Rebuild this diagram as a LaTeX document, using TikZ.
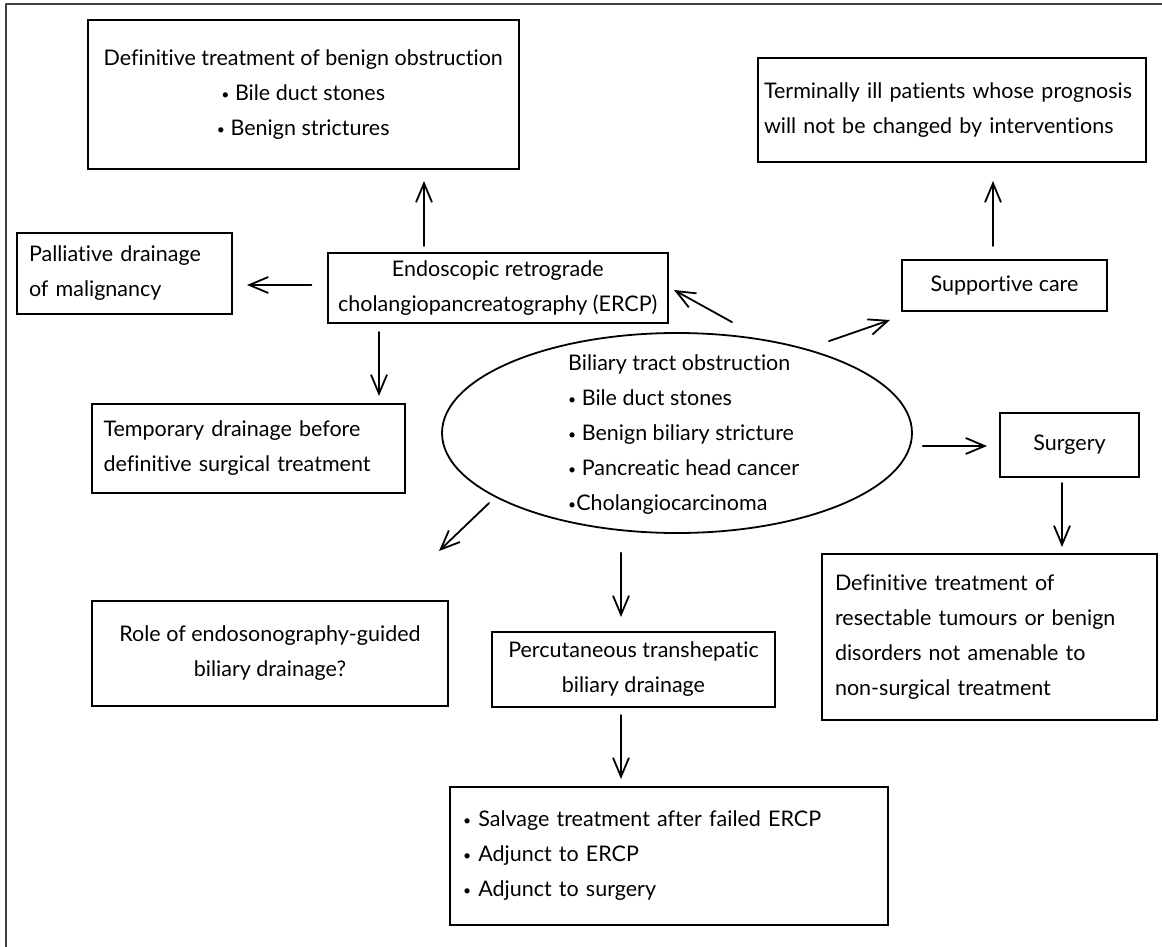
\documentclass[tikz,border=0pt]{standalone}
\usepackage{fontspec}
\setmainfont{Lato}[Ligatures=NoCommon]
\usetikzlibrary{arrows.meta, shapes.geometric, positioning, calc}

\newcommand{\bul}{\raisebox{0.12ex}{\scalebox{0.65}{•}}}

\tikzset{
  box/.style={draw, line width=2pt, line join=miter, inner sep=0pt},
  arr/.style={->, line width=1.8pt},
  every node/.style={font=\fontsize{21.5}{35}\selectfont},
}

\begin{document}
\begin{tikzpicture}[line cap=round,line join=round,>={Straight Barb[length=19pt,width=16pt]},x=1pt,y=-1pt]
\useasboundingbox (0,0) rectangle (1162,947);
% frame (cut at the right and bottom)
\draw[line width=1.3pt, black!75] (1162,4) -- (6,4) -- (6,947);

% boxes
\node[box, minimum width=431.5pt, minimum height=149pt, align=center] (benign) at (303.25,94.5)
  {Definitive treatment of benign obstruction\\ \bul\ Bile duct stones\\ \bul\ Benign strictures};
\node[box, minimum width=388pt, minimum height=104pt, text width=376pt, align=left] (term) at (952,110)
  {Terminally ill patients whose prognosis\\ will not be changed by interventions};
\node[box, minimum width=215pt, minimum height=81pt, text width=191pt, align=left] (pall) at (124.5,273.5)
  {Palliative drainage\\ of malignancy};
\node[box, minimum width=340.5pt, minimum height=70pt, align=center] (ercp) at (497.75,288)
  {Endoscopic retrograde\\ cholangiopancreatography (ERCP)};
\node[box, minimum width=205pt, minimum height=51pt] (supp) at (1004.5,285.5) {Supportive care};
\node[box, minimum width=313pt, minimum height=89pt, text width=290pt, align=left] (temp) at (248.5,448.5)
  {Temporary drainage before\\ definitive surgical treatment};
\node[box, minimum width=139pt, minimum height=64pt] (surg) at (1069.5,445) {Surgery};
\node[box, minimum width=335pt, minimum height=166pt, text width=309pt, align=left] (resect) at (989.5,637)
  {Definitive treatment of\\ resectable tumours or benign\\ disorders not amenable to\\ non-surgical treatment};
\node[box, minimum width=356pt, minimum height=105pt, align=center] (eus) at (270,653.5)
  {Role of endosonography-guided\\ biliary drainage?};
\node[box, minimum width=283pt, minimum height=75pt, align=center] (ptbd) at (633.5,669.5)
  {Percutaneous transhepatic\\ biliary drainage};
\node[box, minimum width=438pt, minimum height=138pt, text width=412pt, align=left] (salv) at (669,856)
  {\bul\ Salvage treatment after failed ERCP\\ \bul\ Adjunct to ERCP\\ \bul\ Adjunct to surgery};

% central ellipse
\node[draw, ellipse, line width=1.8pt, minimum width=470pt, minimum height=200pt, inner sep=0pt] (obst) at (677,433) {};
\node[anchor=west, align=left, inner sep=0pt] (obsttxt) at (568,435)
  {Biliary tract obstruction\\ \bul\ Bile duct stones\\ \bul\ Benign biliary stricture\\ \bul\ Pancreatic head cancer\\ \bul Cholangiocarcinoma};

% arrows
\draw[arr] ($(ercp.north)+(-73.75,-6)$) -- ($(benign.south)+(120.75,11)$);
\draw[arr] ($(ercp.west)+(-15,-3)$) -- ($(pall.east)+(14,11.5)$);
\draw[arr] ($(ercp.south)+(-118.75,8)$) -- ($(temp.north)+(130.5,-7)$);
\draw[arr] ($(obst.north)+(55,-10)$) -- ($(ercp.east)+(5,2)$);
\draw[arr] ($(obst.north)+(152,9)$) -- ($(supp.south west)+(-11,8)$);
\draw[arr] ($(supp.north)+(-11.5,-13)$) -- ($(term.south)+(41,18)$);
\draw[arr] ($(obst.east)+(10,13)$) -- ($(surg.west)+(-12,1)$);
\draw[arr] ($(surg.south)+(-7.5,5)$) -- ($(resect.north)+(72.5,-6)$);
\draw[arr] ($(obst.west)+(48,70)$) -- ($(eus.north east)+(-10,-49)$);
\draw[arr] ($(obst.south)+(-56,19)$) -- ($(ptbd.north)+(-12.5,-14)$);
\draw[arr] ($(ptbd.south)+(-12.5,7)$) -- ($(salv.north)+(-48,-7)$);
\end{tikzpicture}
\end{document}
